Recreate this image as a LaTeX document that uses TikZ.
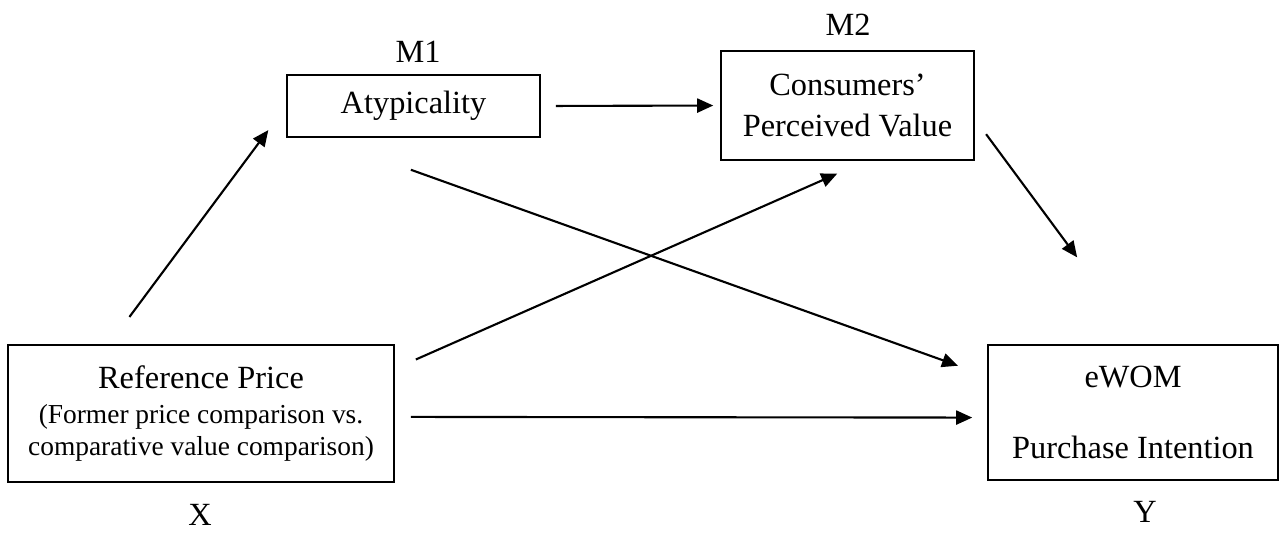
\documentclass[tikz,border=0pt]{standalone}
\usepackage{fontspec}
\setmainfont{Liberation Serif}
\usetikzlibrary{arrows.meta}

\tikzstyle{boxdecorate}=[shape=rectangle,draw,line width=0.4pt,align=center,inner sep=0pt,font=\fontsize{9.2}{9.1}\selectfont]
\tikzstyle{labeldecorate}=[font=\fontsize{9.2}{11}\selectfont]
\tikzstyle{arrowdecorate}=[-{Triangle[length=0.16cm,width=0.14cm]},line width=0.6pt]
\newcommand{\subline}{\fontsize{7.8}{9.1}\selectfont}

\begin{document}
\begin{tikzpicture}[x=0.01cm,y=-0.01cm]
      \useasboundingbox (0,0) rectangle (1280,533);

      %% variable boxes
      \node (refprice) at (201,413.5) [boxdecorate,minimum width=3.86cm,minimum height=1.37cm]
        {Reference Price\\[1.1pt]\subline (Former price comparison vs.\\\subline comparative value comparison)};
      \node (atyp) at (413.5,106) [boxdecorate,minimum width=2.53cm,minimum height=0.62cm] {Atypicality};
      \node (value) at (847.5,105.5) [boxdecorate,minimum width=2.53cm,minimum height=1.09cm]
        {Consumers’\\[2.6pt]Perceived Value};
      \node (ewom) at (1133,412.5) [boxdecorate,minimum width=2.90cm,minimum height=1.35cm]
        {eWOM\\[11pt]Purchase Intention};

      \foreach \nodename/\x/\y/\labeltext in {mone/418/52/M1, mtwo/848/25/M2, xlabel/200/515/X, ylabel/1145/512/Y}
      {
        \node (\nodename) at (\x,\y) [labeldecorate] {\labeltext};
      }

      %% paths
      \path
      \foreach \startnode/\endnode/\pre/\post in {refprice.143/atyp.west/0.34cm/0.30cm,
        atyp.east/value.west/0.15cm/0.07cm, atyp.199/ewom.166/0.95cm/0.31cm,
        refprice.13/value.289/0.23cm/0.32cm, value.354/ewom.83/0.19cm/1.08cm,
        refprice.359/ewom.182/0.16cm/0.15cm}
      {
        (\startnode) edge[arrowdecorate,shorten <=\pre,shorten >=\post] (\endnode)
      };
\end{tikzpicture}
\end{document}
